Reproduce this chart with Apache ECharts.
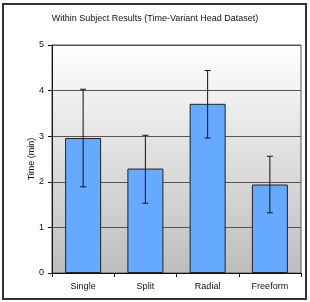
<!DOCTYPE html>
<html>
<head>
<meta charset="utf-8">
<script src="https://cdn.jsdelivr.net/npm/echarts@6/dist/echarts.min.js"></script>
<style>
  html, body { margin: 0; padding: 0; background: #fff; }
  #frame { position: absolute; left: 2px; top: 3px; width: 301px; height: 293px; border: 2px solid #333; }
  #chart { position: absolute; left: 0; top: 0; width: 310px; height: 302px; }
</style>
</head>
<body>
<div id="frame"></div>
<div id="chart"></div>
<script>
const categories = ['Single', 'Split', 'Radial', 'Freeform'];
const means = [2.96, 2.29, 3.71, 1.94];
const errLow = [1.89, 1.53, 2.96, 1.32];
const errHigh = [4.03, 3.02, 4.44, 2.56];

const chart = echarts.init(document.getElementById('chart'));

const errorData = categories.map((c, i) => [i, errLow[i], errHigh[i]]);

chart.setOption({
  animation: false,
  title: {
    text: 'Within Subject Results (Time-Variant Head Dataset)',
    left: 'center', top: 9,
    textStyle: { fontSize: 9, fontWeight: 'normal', color: '#111', fontFamily: 'Liberation Sans, Arial' }
  },
  grid: {
    left: 52, right: 9, top: 45, bottom: 29,
    show: true, borderColor: '#555', borderWidth: 1,
    backgroundColor: new echarts.graphic.LinearGradient(0, 0, 0, 1, [
      { offset: 0, color: '#ffffff' },
      { offset: 1, color: '#bdbdbd' }
    ])
  },
  xAxis: {
    type: 'category', data: categories,
    axisLine: { lineStyle: { color: '#111' } },
    axisTick: { show: true, length: 4, lineStyle: { color: '#111' } },
    axisLabel: { fontSize: 9, color: '#111', margin: 9, fontFamily: 'Liberation Sans, Arial' }
  },
  yAxis: {
    type: 'value', min: 0, max: 5, interval: 1,
    name: 'Time (min)', nameLocation: 'middle', nameGap: 16, nameMoveOverlap: false,
    nameTextStyle: { fontSize: 9, color: '#111', fontFamily: 'Liberation Sans, Arial' },
    axisLine: { show: true, lineStyle: { color: '#111' } },
    axisTick: { show: true, length: 4, lineStyle: { color: '#111' } },
    axisLabel: { fontSize: 9, color: '#111', margin: 8, fontFamily: 'Liberation Sans, Arial' },
    splitLine: { lineStyle: { color: '#555', width: 1 } }
  },
  series: [
    {
      type: 'bar', data: means, barWidth: 36,
      itemStyle: { color: '#66aaff', borderColor: '#222', borderWidth: 1 }
    },
    {
      type: 'custom', data: errorData, z: 10,
      renderItem: function (params, api) {
        const x = api.value(0);
        const lo = api.coord([x, api.value(1)]);
        const hi = api.coord([x, api.value(2)]);
        const w = 3;
        const style = { stroke: '#111', lineWidth: 1 };
        return {
          type: 'group',
          children: [
            { type: 'line', shape: { x1: lo[0], y1: lo[1], x2: hi[0], y2: hi[1] }, style: style },
            { type: 'line', shape: { x1: lo[0] - w, y1: lo[1], x2: lo[0] + w, y2: lo[1] }, style: style },
            { type: 'line', shape: { x1: hi[0] - w, y1: hi[1], x2: hi[0] + w, y2: hi[1] }, style: style }
          ]
        };
      }
    }
  ]
});
</script>
</body>
</html>
